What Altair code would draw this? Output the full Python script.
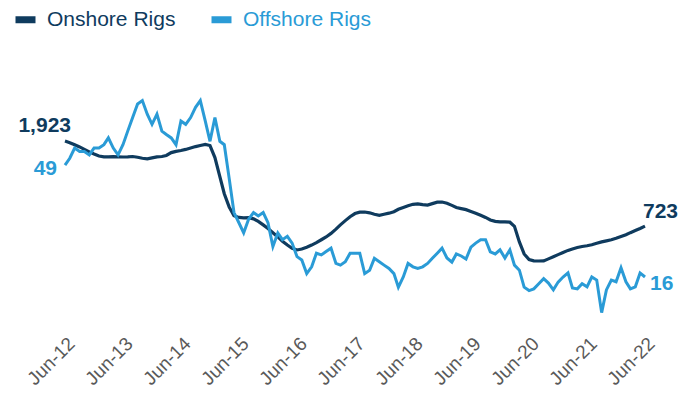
import altair as alt
import pandas as pd

# ---- data (monthly, Jun-2012 .. Jun-2022) ----
start_month = "2012-06-01"
n_months = 121
series_names = ["Onshore Rigs", "Offshore Rigs"]
year_labels = ["Jun-12", "Jun-13", "Jun-14", "Jun-15", "Jun-16", "Jun-17",
               "Jun-18", "Jun-19", "Jun-20", "Jun-21", "Jun-22"]

onshore = [
    1923, 1900, 1870, 1840, 1805, 1770, 1740, 1712, 1700, 1700, 1702, 1700,
    1698, 1700, 1705, 1695, 1680, 1672, 1685, 1700, 1705, 1720, 1760, 1778,
    1790, 1805, 1825, 1845, 1860, 1875, 1860, 1690, 1420, 1180, 990, 870,
    845, 840, 842, 825, 790, 740, 690, 630, 570, 510, 455, 410,
    386, 400, 425, 455, 490, 530, 570, 620, 680, 740, 800, 855,
    900, 920, 922, 910, 890, 875, 890, 905, 925, 960, 985, 1010,
    1030, 1035, 1025, 1020, 1040, 1060, 1062, 1045, 1015, 985, 970, 955,
    930, 905, 875, 845, 810, 790, 782, 782, 778, 720, 500, 330,
    250, 232, 230, 232, 260, 290, 320, 350, 380, 400, 420, 435,
    445, 460, 480, 500, 515, 530, 550, 575, 600, 630, 660, 690,
    723,
]

offshore = [
    49, 51, 54, 53, 53, 52, 54, 54, 55, 57, 54, 52,
    55, 59, 63, 67, 68, 64, 61, 64, 59, 58, 57, 55,
    62, 61, 63, 66, 68, 62, 56, 63, 56, 55, 45, 35,
    32, 29, 33, 35, 34, 35, 32, 25, 29, 27, 28, 26,
    22, 21, 17, 19, 23, 22.5, 23.5, 24.5, 20, 19.5, 20.5, 23,
    23, 23, 17, 18, 21.5, 20.5, 19.5, 18.5, 17, 13, 16, 20,
    19, 18.5, 19, 20, 21.5, 23, 24.5, 21.6, 20.4, 22.8, 22.2, 21.3,
    24.8, 26, 27, 27, 23.4, 22.8, 24, 21.6, 24, 19.5, 18, 13,
    12, 12.5, 14, 15.5, 14.2, 12.2, 14.5, 16, 17.2, 12.8, 12.5, 14,
    13.1, 16, 15.1, 5.5, 12.2, 15.1, 14.6, 18.7, 14.6, 12.5, 13.1, 17.2,
    16,
]

dates = pd.date_range(start_month, periods=n_months, freq="MS").strftime("%Y-%m-%d")
df = pd.concat([
    pd.DataFrame({"date": dates, "idx": range(n_months), "series": series_names[0], "value": onshore}),
    pd.DataFrame({"date": dates, "idx": range(n_months), "series": series_names[1], "value": offshore}),
], ignore_index=True)

tick_ms = [int(pd.Timestamp(f"20{l[-2:]}-06-01", tz="UTC").timestamp() * 1000) for l in year_labels]
x_dom = [tick_ms[0], tick_ms[-1]]

DARK = "#0f3b5e"
LIGHT = "#2a9bd6"
FONT = "Liberation Sans"

on_dom = [-800, 2700]
off_dom = [-0.8, 72.3]

x_enc = alt.X(
    "date:T",
    scale=alt.Scale(type="utc", domain=x_dom),
    axis=alt.Axis(values=tick_ms, labelExpr="utcFormat(datum.value, '%b-%y')", labelAngle=-45,
                  labelFontSize=19, labelColor="#595959", labelFont=FONT,
                  domain=False, ticks=False, grid=False, labelPadding=0,
                  labelOverlap=False, title=None),
)

color_scale = alt.Scale(domain=series_names, range=[DARK, LIGHT])
color_enc = alt.Color(
    "series:N",
    scale=color_scale,
    legend=alt.Legend(
        title=None, orient="none", legendX=-53, legendY=-80, direction="horizontal",
        symbolType="stroke", symbolStrokeWidth=7, symbolSize=400,
        labelFontSize=21, labelFont=FONT, labelOffset=8, columnPadding=21,
        labelColor={"expr": f"datum.label == '{series_names[0]}' ? '{DARK}' : '{LIGHT}'"},
        padding=0,
    ),
)

base = alt.Chart(df)

line_on = base.transform_filter(alt.datum.series == series_names[0]).mark_line(
    strokeWidth=3.2).encode(
    x=x_enc,
    y=alt.Y("value:Q", scale=alt.Scale(domain=on_dom, nice=False, zero=False), axis=None),
    color=color_enc,
)
line_off = base.transform_filter(alt.datum.series == series_names[1]).mark_line(
    strokeWidth=3).encode(
    x=x_enc,
    y=alt.Y("value:Q", scale=alt.Scale(domain=off_dom, nice=False, zero=False), axis=None),
    color=color_enc,
)


def label(series, idx, dom, color, align, dx, dy):
    return base.transform_filter(
        (alt.datum.series == series) & (alt.datum.idx == idx)
    ).mark_text(
        align=align, baseline="alphabetic", dx=dx, dy=dy, fontSize=21,
        fontWeight="bold", font=FONT, color=color,
    ).encode(
        x=x_enc,
        y=alt.Y("value:Q", scale=alt.Scale(domain=dom, nice=False, zero=False), axis=None),
        text=alt.Text("value:Q", format=","),
    )


t1 = label(series_names[0], 0, on_dom, DARK, "right", 6, -9)
t2 = label(series_names[1], 0, off_dom, LIGHT, "right", -8, 10)
t3 = label(series_names[0], n_months - 1, on_dom, DARK, "left", -2, -8)
t4 = label(series_names[1], n_months - 1, off_dom, LIGHT, "left", 5, 13)

chart = alt.layer(line_on, line_off, t1, t2, t3, t4).resolve_scale(
    y="independent"
).properties(
    width=580, height=248,
    padding={"left": 57, "top": 78, "right": 41, "bottom": 61},
    autosize=alt.AutoSizeParams(type="none"),
    background="white",
).configure_view(stroke=None)

chart.save("out.html", embed_options={"renderer": "svg", "actions": False})
